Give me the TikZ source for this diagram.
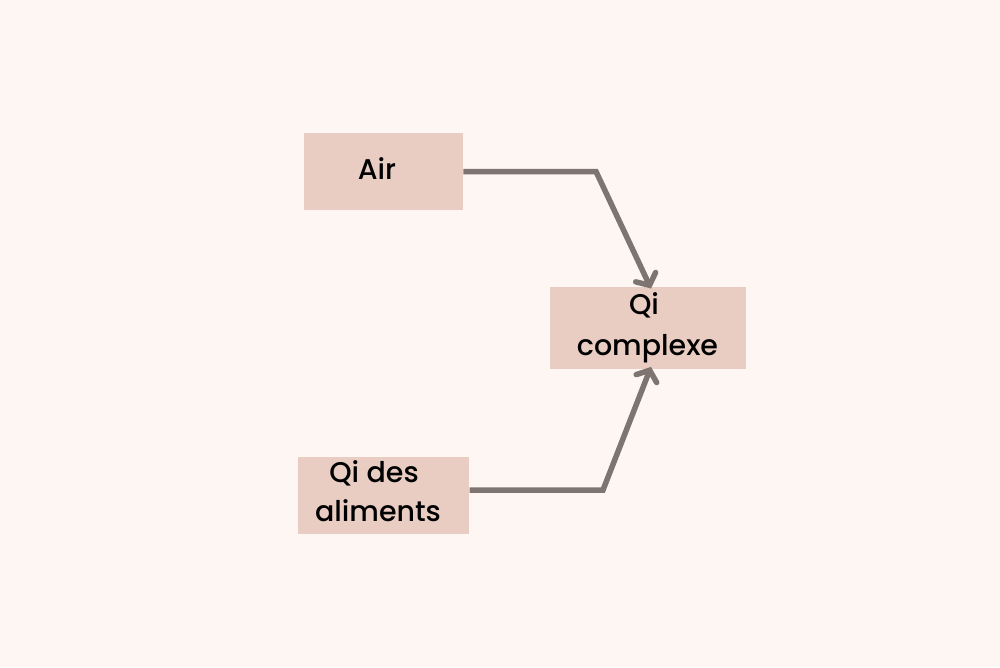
\documentclass[tikz,border=0pt]{standalone}
\usepackage{fontspec}
\setmainfont{Poppins}[UprightFont=* Medium]
\usetikzlibrary{arrows.meta}
\definecolor{bg}{HTML}{FEF6F2}
\definecolor{boxc}{HTML}{E9CDC2}
\definecolor{arrc}{HTML}{7F7570}
\tikzset{
  boxnode/.style={fill=boxc, draw=none, inner sep=0pt},
  txt/.style={anchor=base, inner sep=0pt, font=\fontsize{28.5}{40}\selectfont, text=black},
  arr/.style={draw=arrc, line width=5.5pt, -{Straight Barb[length=9pt,width=22pt,line cap=round]}}
}
\begin{document}
\begin{tikzpicture}[x=1pt,y=-1pt]
\fill[bg] (0,0) rectangle (1000,667);
\useasboundingbox (0,0) rectangle (1000,667);
\node[boxnode, minimum width=158.7pt, minimum height=77.6pt] (air) at (383.7,171.5) {};
\node[boxnode, minimum width=196pt, minimum height=82pt] (qc) at (648,327.7) {};
\node[boxnode, minimum width=171.3pt, minimum height=76.4pt] (ali) at (383.7,495.5) {};
\node[txt] (tair) at (377,179.3) {Air};
\node[txt] (tqc1) at (644,314) {Qi};
\node[txt] (tqc2) at (647.5,355) {complexe};
\node[txt] (tali1) at (374,482.7) {Qi des};
\node[txt] (tali2) at (378,521.7) {aliments};
\coordinate (k1) at (596,171.5);
\coordinate (k2) at (603,490);
\draw[arr] (air.east) -- (k1) -- ([xshift=3pt,yshift=-2pt]qc.north);
\draw[arr] (ali.east |- k2) -- (k2) -- ([xshift=3pt,yshift=2pt]qc.south);
\end{tikzpicture}
\end{document}
